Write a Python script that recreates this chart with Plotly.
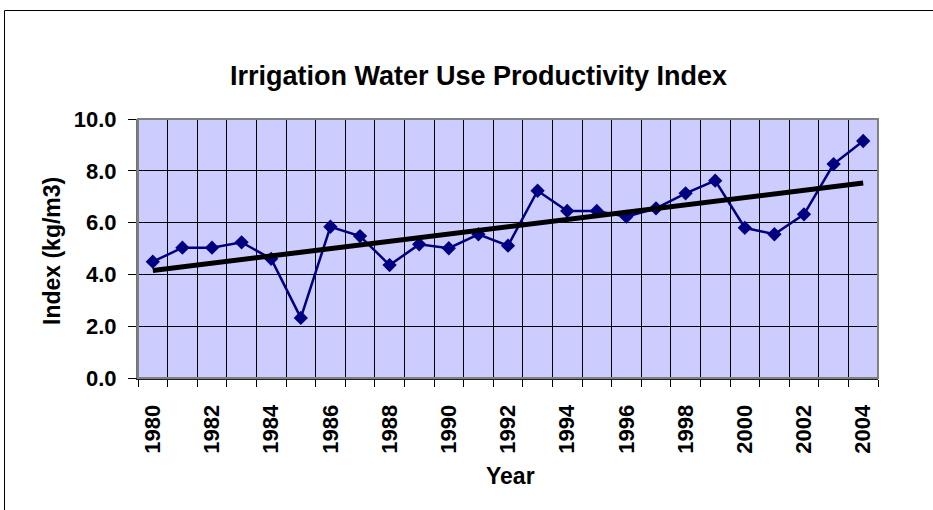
import numpy as np
import plotly.graph_objects as go

years = list(range(1980, 2005))
index_values = [4.49, 5.03, 5.03, 5.24, 4.60, 2.32, 5.84, 5.48, 4.36, 5.16,
                5.01, 5.55, 5.11, 7.23, 6.45, 6.45, 6.23, 6.55, 7.13, 7.62,
                5.80, 5.55, 6.32, 8.26, 9.15]
tick_years = list(range(1980, 2005, 2))
y_ticks = [0, 2, 4, 6, 8, 10]

title_text = "Irrigation Water Use Productivity Index"
x_title = "Year"
y_title = "Index (kg/m3)"

# Linear trendline (least squares over the series)
coef = np.polyfit(years, index_values, 1)
trend = [float(np.polyval(coef, y)) for y in years]

FONT = "Liberation Sans, Arial, sans-serif"
NAVY = "#000080"

fig = go.Figure()
fig.add_trace(go.Scatter(
    x=years, y=index_values, mode="lines+markers",
    line=dict(color=NAVY, width=2.5),
    marker=dict(symbol="diamond", size=11, color=NAVY),
    showlegend=False, hoverinfo="x+y"))
fig.add_trace(go.Scatter(
    x=[years[0], years[-1]], y=[trend[0], trend[-1]], mode="lines",
    line=dict(color="black", width=5),
    showlegend=False, hoverinfo="skip"))

L, R, T, B = 138, 55, 119, 132
W, H = 933, 510
pw = W - L - R
ph = H - T - B

def px_x(p):
    return (p - L) / pw

def px_y(p):
    return (H - B - p) / ph

fig.update_layout(
    width=W, height=H,
    margin=dict(l=L, r=R, t=T, b=B, pad=0),
    paper_bgcolor="white",
    plot_bgcolor="#CCCCFF",
    font=dict(family=FONT, color="black", size=20),
    xaxis=dict(
        range=[1979.5, 2004.5],
        tickmode="array", tickvals=tick_years,
        ticktext=[str(t) for t in tick_years],
        tickangle=-90,
        ticks="", showgrid=False, zeroline=False,
        tickfont=dict(family=FONT, size=22, weight="bold"),
        ticklabelstandoff=16,
        showline=True, linecolor="#202020", linewidth=2,
        minor=dict(tick0=1979.5, dtick=1, showgrid=True, gridcolor="black",
                   gridwidth=1, ticks="outside", ticklen=7, tickcolor="black",
                   tickwidth=1),
        fixedrange=True,
    ),
    yaxis=dict(
        range=[0, 10], tickmode="array", tickvals=y_ticks,
        tickformat=".1f",
        ticks="outside", ticklen=8, tickcolor="black", tickwidth=1,
        showgrid=True, gridcolor="black", gridwidth=1, zeroline=False,
        tickfont=dict(family=FONT, size=22, weight="bold"),
        ticklabelstandoff=7,
        showline=True, linecolor="#707070", linewidth=2,
        fixedrange=True,
    ),
    shapes=[
        # plot-area border
        dict(type="rect", xref="paper", yref="paper", x0=0, x1=1, y0=0, y1=1,
             line=dict(color="#808080", width=2), layer="above"),
        # chart-area frame
        dict(type="rect", xref="paper", yref="paper",
             x0=px_x(4.5), x1=px_x(945), y0=px_y(525), y1=px_y(10.5),
             line=dict(color="black", width=1), layer="above"),
    ],
    annotations=[
        dict(text="<b>" + title_text + "</b>", xref="paper", yref="paper",
             x=px_x(478), y=px_y(76), xanchor="center", yanchor="middle",
             showarrow=False, font=dict(family=FONT, size=27)),
        dict(text="<b>" + y_title + "</b>", xref="paper", yref="paper",
             x=px_x(52), y=px_y(251), xanchor="center", yanchor="middle",
             textangle=-90, showarrow=False, font=dict(family=FONT, size=23)),
        dict(text="<b>" + x_title + "</b>", xref="paper", yref="paper",
             x=px_x(511), y=px_y(476), xanchor="center", yanchor="middle",
             showarrow=False, font=dict(family=FONT, size=23)),
    ],
)

fig.write_html("out.html",
               config={"displayModeBar": False},
               post_script="document.body.style.margin='0';document.body.style.padding='0';")
